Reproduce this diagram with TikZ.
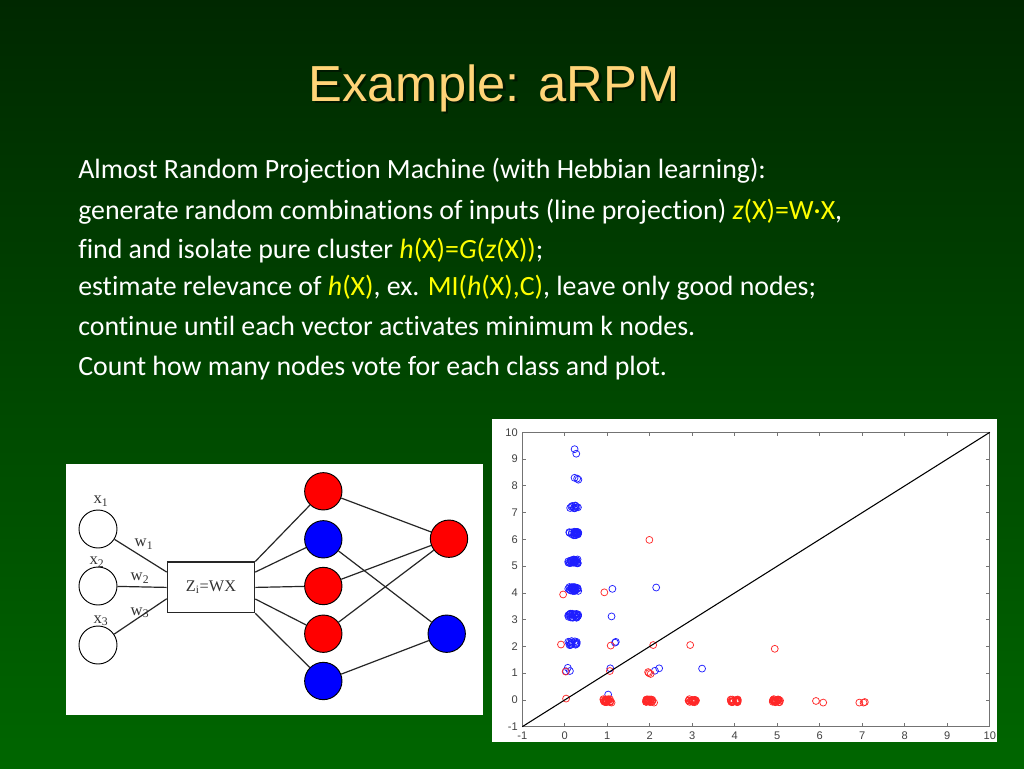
\documentclass[tikz,border=0pt]{standalone}
\usepackage{fontspec}
\setmainfont[Ligatures=NoCommon]{Carlito}
\newfontfamily\titlefont{Liberation Sans}
\newfontfamily\timesfont{Liberation Serif}
\newfontfamily\plotfont{Liberation Sans}
\definecolor{bgtop}{RGB}{0,40,0}
\definecolor{bgbot}{RGB}{0,102,0}
\definecolor{titlecol}{RGB}{255,212,120}
\definecolor{hl}{RGB}{255,255,0}
\definecolor{pred}{RGB}{255,40,40}
\definecolor{pblue}{RGB}{30,30,255}
\definecolor{nred}{RGB}{255,0,0}
\definecolor{nblue}{RGB}{0,0,255}
\begin{document}
\begin{tikzpicture}[x=0.75pt,y=-0.75pt,
  bodytext/.style={anchor=base west, inner sep=0pt, text=white, font=\fontsize{20.9}{25}\selectfont},
  titletext/.style={anchor=base, inner sep=0pt, font=\titlefont\fontsize{38}{44}\selectfont},
  innode/.style={circle, draw=black, fill=white, line width=0.7pt, minimum size=28.5pt, inner sep=0pt},
  rednode/.style={circle, draw=black, fill=nred, line width=0.7pt, minimum size=28pt, inner sep=0pt},
  bluenode/.style={circle, draw=black, fill=nblue, line width=0.7pt, minimum size=28pt, inner sep=0pt},
  lab/.style={inner sep=0pt, text=black!80, font=\timesfont\fontsize{12.5}{13}\selectfont},
  conn/.style={draw=black!85, line width=0.9pt},
  zbox/.style={draw=black!85, fill=white, line width=0.9pt, minimum width=65.5pt, minimum height=38pt, inner sep=0pt, text=black!80, font=\timesfont\fontsize{12.2}{13}\selectfont},
  axframe/.style={draw=black!55, line width=0.5pt},
  ticklab/.style={inner sep=0pt, text=black!75, font=\plotfont\fontsize{8.3}{9}\selectfont},
  bpt/.style={draw=pblue, line width=0.55pt},
  rpt/.style={draw=pred, line width=0.55pt}
]
% background
\shade[top color=bgtop, bottom color=bgbot] (0,0) rectangle (1024,768);
\useasboundingbox (0,0) rectangle (1024,768);

% title
\node[titletext, text=black!90!green] (titleshadow) at (496.5,103.5) {Example: aRPM};
\node[titletext, text=titlecol] (title) at (494,101) {Example: aRPM};

% body text
\node[bodytext] (l1) at (78,178) {Almost Random Projection Machine (with Hebbian learning):};
\node[bodytext] (l2) at (78,219) {generate random combinations of inputs (line projection) \textcolor{hl}{\textit{z}(X)=W·X},};
\node[bodytext] (l3) at (78,258) {find and isolate pure cluster \textcolor{hl}{\textit{h}(X)=\textit{G}(\textit{z}(X))};};
\node[bodytext] (l4) at (78,295) {estimate relevance of \textcolor{hl}{\textit{h}(X)}, ex. \textcolor{hl}{MI(\textit{h}(X),C)}, leave only good nodes;};
\node[bodytext] (l5) at (78,335) {continue until each vector activates minimum k nodes.};
\node[bodytext] (l6) at (78,375) {Count how many nodes vote for each class and plot.};

% ---------------- left network diagram ----------------
\fill[white] (66,464) rectangle (483,715);
\node[innode] (x1) at (98,529) {};
\node[innode] (x2) at (98,586) {};
\node[innode] (x3) at (98,645) {};
\node[lab] (x1l) at (101,501) {x\textsubscript{1}};
\node[lab] (x2l) at (97,562) {x\textsubscript{2}};
\node[lab] (x3l) at (101,621) {x\textsubscript{3}};
\node[zbox] (zb) at (211,587.4) {Z\textsubscript{i}=WX};
\node[lab] (w1) at (144,544) {w\textsubscript{1}};
\node[lab] (w2) at (140,578) {w\textsubscript{2}};
\node[lab] (w3) at (140,613) {w\textsubscript{3}};
\draw[conn] (x1) -- ([yshift=11.5pt]zb.west);
\draw[conn] (x2) -- (zb.west);
\draw[conn] (x3) -- ([yshift=-8.5pt]zb.west);

\node[rednode]  (h1) at (323.3,491.3) {};
\node[bluenode] (h2) at (323.3,539.3) {};
\node[rednode]  (h3) at (323.3,586) {};
\node[rednode]  (h4) at (323.3,633.7) {};
\node[bluenode] (h5) at (323.3,681) {};
\node[rednode]  (o1) at (449,538.7) {};
\node[bluenode] (o2) at (446.7,633.7) {};

\draw[conn] (zb.north east) -- (h1);
\draw[conn] ([yshift=11.5pt]zb.east) -- (h2);
\draw[conn] (zb.east) -- (h3);
\draw[conn] ([yshift=-8.7pt]zb.east) -- (h4);
\draw[conn] (zb.south east) -- (h5);
\draw[conn] (h1) -- (o1);
\draw[conn] (h2) -- (o2);
\draw[conn] (h3) -- (o1);
\draw[conn] (h4) -- (o1);
\draw[conn] (h5) -- (o2);

% ---------------- right scatter plot ----------------
\fill[white] (492,419) rectangle (997,742);
\begin{scope}[xshift=423.6pt, yshift=-524.925pt, x={(31.875pt,0pt)}, y={(0pt,20.07pt)}]
  \draw[axframe] (-1,-1) rectangle (10,10);
  \foreach \i in {-1,...,10} {
    \draw[axframe] (\i,-1) -- ++(0,0.15);
    \draw[axframe] (\i,10) -- ++(0,-0.15);
    \draw[axframe] (-1,\i) -- ++(0.094,0);
    \draw[axframe] (10,\i) -- ++(-0.094,0);
    \node[ticklab, anchor=north] at (\i,-1.17) {\i};
    \node[ticklab, anchor=east] at (-1.1,\i) {\i};
  }
  \pgfmathsetseed{11}
  % blue clusters near x=0.2
  \foreach \cy/\n in {7.2/10, 6.22/26, 5.18/26, 4.15/26, 3.15/24, 2.12/14} {
    \foreach \k in {1,...,\n} {
      \pgfmathsetmacro\px{0.2+0.12*rand}
      \pgfmathsetmacro\py{\cy+0.08*rand}
      \draw[bpt] (\px,\py) circle[radius=2.6pt];
    }
  }
  \foreach \px/\py in {0.23/9.37, 0.27/9.2, 0.23/8.3, 0.29/8.27, 0.32/8.23,
      0.07/1.2, 0.03/1.07, 0.12/1.08, 1.12/4.15, 1.1/3.12, 1.18/2.14, 1.2/2.17,
      1.07/1.18, 1.02/0.2, 2.15/4.2, 2.22/1.18, 2.12/1.09, 3.23/1.17} {
    \draw[bpt] (\px,\py) circle[radius=2.6pt];
  }
  % red clusters near y=0
  \foreach \cx in {0.98,2.0,3.0,3.98,4.98} {
    \foreach \k in {1,...,22} {
      \pgfmathsetmacro\px{\cx+0.09*rand}
      \pgfmathsetmacro\py{-0.03+0.06*rand}
      \draw[rpt] (\px,\py) circle[radius=2.6pt];
    }
  }
  \foreach \px/\py in {-0.04/3.94, -0.09/2.07, 0.03/0.05, 0.02/1.06, 0.93/4.02,
      1.08/2.03, 1.06/1.08, 1.1/-0.1, 1.99/5.98, 2.08/2.05, 1.98/1.0, 2.02/0.97,
      1.96/1.04, 2.95/2.05, 4.94/1.91, 5.91/-0.04, 6.08/-0.1, 6.93/-0.1,
      7.06/-0.08, 7.03/-0.1, 2.1/-0.1} {
    \draw[rpt] (\px,\py) circle[radius=2.6pt];
  }
  \draw[black, line width=0.8pt] (-1,-1) -- (10,10);
\end{scope}
\end{tikzpicture}
\end{document}
